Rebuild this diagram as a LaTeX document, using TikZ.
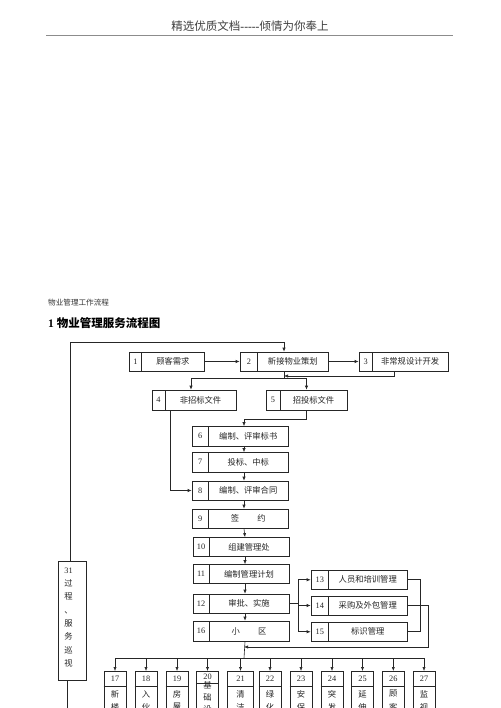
\documentclass[tikz,border=0pt]{standalone}
\usepackage{fontspec}
\setmainfont{Liberation Serif}
\newfontfamily\cjk{Noto Sans CJK SC}
\usetikzlibrary{arrows.meta}
\tikzset{
  boxst/.style={draw=black!85, line width=0.6pt, inner sep=0pt, fill=white},
  ln/.style={draw=black!85, line width=0.6pt},
  arr/.style={ln, -{Latex[length=4pt,width=3.2pt]}},
  txt/.style={inner sep=0pt, font=\fontsize{8.3pt}{9pt}\selectfont, text=black!85},
}
\newcommand\nbox[8]{%
  \node[boxst, minimum width={(#4-#2)*1pt}, minimum height={(#5-#3)*1pt}] (#1) at ({(#2+#4)/2},{(#3+#5)/2}) {};
  \draw[ln] (#6,#3) -- (#6,#5);
  \node[txt] at ({(#2+#6)/2},{(#3+#5)/2}) {#7};
  \node[txt] at ({(#6+#4)/2},{(#3+#5)/2}) {\cjk #8};
}
\newcommand\bbox[6]{%
  \node[boxst, minimum width={#3*1pt}, minimum height=60pt, anchor=north] (#1) at (#2,671) {};
  \draw[ln] ([yshift=-15pt]#1.north west) -- ([yshift=-15pt]#1.north east);
  \node[txt] at (#2,679) {#4};
  \node[txt] at (#2,694) {\cjk #5};
  \node[txt] at (#2,707) {\cjk #6};
}
\begin{document}
\begin{tikzpicture}[x=1pt,y=-1pt]
\clip (0,0) rectangle (500,708);
\useasboundingbox (0,0) rectangle (500,708);
\fill[white] (0,0) rectangle (500,708);

% header
\node[inner sep=0pt, font=\fontsize{11.5pt}{13pt}\selectfont, text=black!75] (hdr) at (250,26) {{\cjk 精选优质文档}{\bfseries -{}-{}-{}-{}-}{\cjk 倾情为你奉上}};
\draw[black!45, line width=0.6pt] (46,35.5) -- (453,35.5);

% titles
\node[inner sep=0pt, anchor=west, font=\fontsize{7.6pt}{9pt}\selectfont, text=black!80] (t1) at (48,303) {\cjk 物业管理工作流程};
\node[inner sep=0pt, anchor=west, font=\fontsize{11.5pt}{13pt}\selectfont\bfseries] (t2) at (48,323.5) {1 {\cjk\bfseries 物业管理服务流程图}};

% boxes
\nbox{b1}{129}{352}{204}{371}{141.7}{1}{顾客需求}
\nbox{b2}{240}{352}{328}{371}{257.7}{2}{新接物业策划}
\nbox{b3}{359}{352}{448}{371}{372.3}{3}{非常规设计开发}
\nbox{b4}{152}{390}{236}{410}{165}{4}{非招标文件}
\nbox{b5}{266}{390}{347}{410}{280}{5}{招投标文件}
\nbox{b6}{192}{426.5}{288}{446}{208.5}{6}{编制、评审标书}
\nbox{b7}{192}{452.5}{288}{472}{208.5}{7}{投标、中标}
\nbox{b8}{192}{481}{288}{500}{208.5}{8}{编制、评审合同}
\nbox{b9}{192}{509}{288}{528.5}{208.5}{9}{签\hspace{2.2em}约}
\nbox{b10}{193}{537.5}{289}{556.5}{209}{10}{组建管理处}
\nbox{b11}{193}{564.5}{289}{583.5}{209}{11}{编制管理计划}
\nbox{b12}{193}{594}{289}{613}{209}{12}{审批、实施}
\nbox{b16}{193}{621}{289}{641}{209}{16}{小\hspace{2.2em}区}
\nbox{b13}{311}{570}{407}{589.5}{328.5}{13}{人员和培训管理}
\nbox{b14}{311}{596}{407}{615}{328.5}{14}{采购及外包管理}
\nbox{b15}{311}{622.5}{407}{641}{328.5}{15}{标识管理}

% box 31
\node[boxst, minimum width=28.4pt, minimum height=118.3pt] (b31) at (72.5,620.85) {};
\node[txt, align=center, font=\fontsize{8.3pt}{13.3pt}\selectfont] (b31t) at (68.5,617.5) {31\\{\cjk 过}\\{\cjk 程}\\{\cjk 、}\\{\cjk 服}\\{\cjk 务}\\{\cjk 巡}\\{\cjk 视}};

% bottom boxes
\bbox{b17}{115}{22}{17}{新}{楼}
\bbox{b18}{146}{22}{18}{入}{伙}
\bbox{b19}{177}{22}{19}{房}{屋}
\node[boxst, minimum width=22pt, minimum height=60pt, anchor=north] (b20) at (207.5,671) {};
\draw[ln] ([yshift=-12pt]b20.north west) -- ([yshift=-12pt]b20.north east);
\node[txt] at (207.5,676.5) {20};
\node[txt] at (207.5,685.5) {\cjk 基};
\node[txt] at (207.5,697) {\cjk 础};
\node[txt] at (207.5,709) {\cjk 设};
\bbox{b21}{240.5}{26}{21}{清}{洁}
\bbox{b22}{270}{22}{22}{绿}{化}
\bbox{b23}{301}{22}{23}{安}{保}
\bbox{b24}{332}{22}{24}{突}{发}
\bbox{b25}{362.5}{22}{25}{延}{伸}
\bbox{b26}{393.3}{22}{26}{顾}{客}
\bbox{b27}{424}{22}{27}{监}{视}

% coordinates
\coordinate (top) at (284,342);
\coordinate (j2) at (284,378);
\coordinate (j3) at (284,376);
\coordinate (j5) at (244,419);
\coordinate (j12) at (298.5,603.5);
\coordinate (j14) at (244,647);
\coordinate (dist) at (244,658.5);

% connectors
\draw[arr] ([xshift=-2.5pt]b31.north) |- (top) -- (b2.north);
\draw[ln] ([xshift=-5pt]b31.south) -- ++(0,40);
\draw[arr] (b1.east) -- (b2.west);
\draw[arr] (b2.east) -- (b3.west);
\draw[ln] (b2.south) -- (j2);
\draw[arr] (j2) -| ([xshift=-3pt]b4.north);
\draw[arr] (j2) -| (b5.north);
\draw[arr] ([xshift=-9.5pt]b3.south) |- (j3);
\draw[arr] (b5.south) |- (j5) -- ([xshift=4pt]b6.north);
\draw[arr] ([xshift=4pt]b6.south) -- ([xshift=4pt]b7.north);
\draw[arr] ([xshift=4pt]b7.south) -- ([xshift=4pt]b8.north);
\draw[arr] ([xshift=4pt]b8.south) -- ([xshift=4pt]b9.north);
\draw[arr] ([xshift=4pt]b9.south) -- ([xshift=4pt]b10.north);
\draw[arr] ([xshift=4pt]b10.south) -- ([xshift=4pt]b11.north);
\draw[arr] ([xshift=4pt]b11.south) -- ([xshift=4pt]b12.north);
\draw[arr] ([xshift=4pt]b12.south) -- ([xshift=4pt]b16.north);
\draw[arr] ([xshift=-24pt]b4.south) |- (b8.west);
\draw[ln] (b12.east) -- (j12);
\draw[arr] (j12) |- (b13.west);
\draw[arr] (j12) |- (b14.west);
\draw[arr] (j12) |- (b15.west);
\draw[ln] (b13.east) -- ++(13,0) |- (b15.east);
\draw[arr] (b14.east) -- ++(21,0) |- (j14);
\draw[ln] ([xshift=4pt]b16.south) -- (dist);
\foreach \b in {b17,b18,b19,b20,b21,b22,b23,b24,b25,b26,b27}
  \draw[arr] (dist) -| (\b.north);
\end{tikzpicture}
\end{document}
